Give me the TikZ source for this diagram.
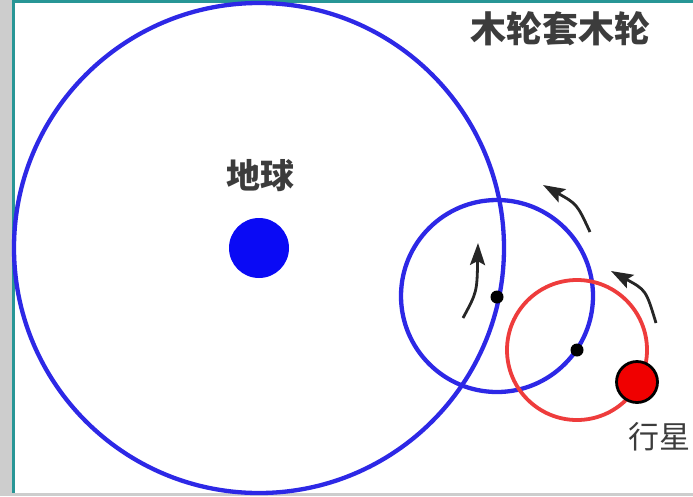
\documentclass[tikz,border=0pt]{standalone}
\usepackage{fontspec}
\newfontfamily\cjk{Noto Sans CJK SC}
\usetikzlibrary{arrows.meta}
\definecolor{orbitblue}{RGB}{45,40,230}
\definecolor{earthblue}{RGB}{10,10,245}
\definecolor{orbitred}{RGB}{238,60,60}
\definecolor{planetred}{RGB}{240,0,0}
\definecolor{frameteal}{RGB}{40,150,150}
\definecolor{sidegray}{RGB}{205,205,205}
\definecolor{textgray}{RGB}{60,60,60}
\tikzset{
  orbit/.style={draw=orbitblue, line width=4.3pt},
  redorbit/.style={draw=orbitred, line width=3.8pt},
  centerdot/.style={circle, fill=black, inner sep=0pt, minimum size=13pt},
  motion/.style={draw=black!85, line width=2.8pt, -{Stealth[length=22pt,width=15pt,inset=4pt]}},
  label/.style={font=\cjk\fontsize{34}{36}\selectfont, text=textgray, inner sep=0pt}
}
\begin{document}
\begin{tikzpicture}[x=1pt,y=-1pt]
\useasboundingbox (0,0) rectangle (693,496);
\fill[sidegray] (0,0) rectangle (693,496);
\fill[white] (14,3) rectangle (693,493);
\draw[frameteal, line width=3pt] (13,0) -- (13,493);
\draw[frameteal, line width=3pt] (13,1.5) -- (693,1.5);

% deferent
\draw[orbit] (259,248) circle[radius=245];
% epicycle
\draw[orbit] (497,296) circle[radius=96];
% second epicycle
\draw[redorbit] (577,350) circle[radius=70];

\node[circle, fill=earthblue, inner sep=0pt, minimum size=60pt] (earth) at (259,248) {};
\node[label, font=\cjk\bfseries\fontsize{34}{36}\selectfont] (earthlbl) at (260,176) {地球};
\node[label, font=\cjk\bfseries\fontsize{36}{38}\selectfont] (title) at (560,29) {木轮套木轮};

\node[centerdot] (c1) at (497,297) {};
\node[centerdot] (c2) at (577,350) {};
\node[circle, fill=planetred, draw=black, line width=2.8pt, inner sep=0pt, minimum size=41pt] (planet) at (637,382) {};
\node[label, anchor=west, font=\cjk\fontsize{31}{33}\selectfont] (planetlbl) at (628,437) {行星};

\coordinate (a1s) at (463,318);
\coordinate (a1e) at (478,243);
\coordinate (a2s) at (590,232);
\coordinate (a2e) at (543,185);
\coordinate (a3s) at (656,323);
\coordinate (a3e) at (611,271);
\draw[motion] (a1s) .. controls (477,292) .. (a1e);
\draw[motion] (a2s) .. controls (577,204) .. (a2e);
\draw[motion] (a3s) .. controls (646,290) .. (a3e);
\end{tikzpicture}
\end{document}
